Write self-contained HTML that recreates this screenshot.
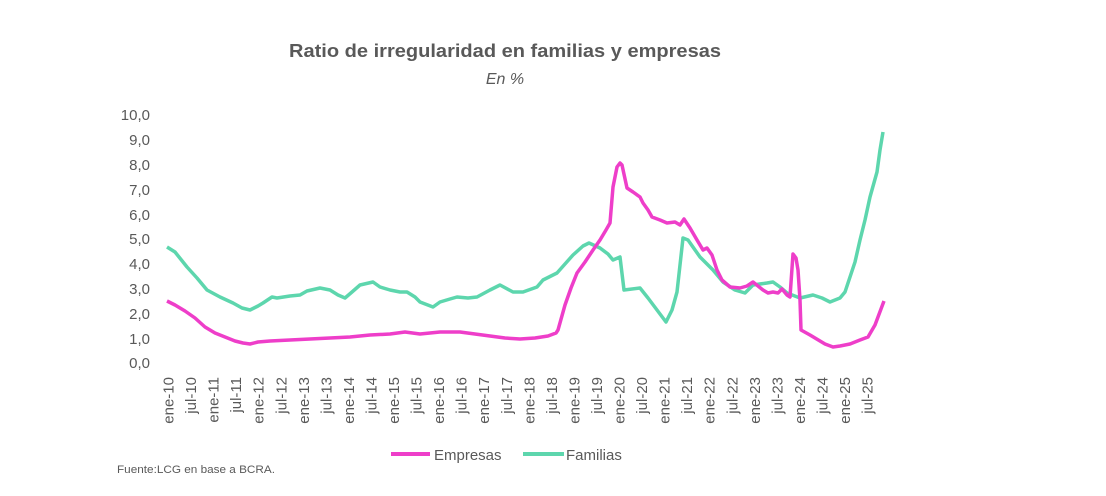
<!DOCTYPE html>
<html><head><meta charset="utf-8"><style>
html,body{margin:0;padding:0;background:#fff;}
svg{display:block;font-family:"Liberation Sans",sans-serif;}
</style></head><body>
<svg width="1106" height="496" viewBox="0 0 1106 496" xmlns="http://www.w3.org/2000/svg">
<rect width="1106" height="496" fill="#fff"/>
<text x="505" y="57" text-anchor="middle" font-size="18" font-weight="bold" fill="#595959" textLength="432" lengthAdjust="spacingAndGlyphs">Ratio de irregularidad en familias y empresas</text>
<text x="505" y="84" text-anchor="middle" font-size="16" font-style="italic" fill="#595959">En %</text>
<g font-size="15" fill="#595959" text-anchor="end">
<text x="150" y="120">10,0</text><text x="150" y="145">9,0</text><text x="150" y="170">8,0</text>
<text x="150" y="195">7,0</text><text x="150" y="220">6,0</text><text x="150" y="244">5,0</text>
<text x="150" y="269">4,0</text><text x="150" y="294">3,0</text><text x="150" y="319">2,0</text>
<text x="150" y="344">1,0</text><text x="150" y="368">0,0</text>
</g>
<g font-size="15" fill="#595959" text-anchor="end">
<text transform="translate(173.5,377) rotate(-90)">ene-10</text>
<text transform="translate(196.1,377) rotate(-90)">jul-10</text>
<text transform="translate(218.6,377) rotate(-90)">ene-11</text>
<text transform="translate(241.2,377) rotate(-90)">jul-11</text>
<text transform="translate(263.7,377) rotate(-90)">ene-12</text>
<text transform="translate(286.3,377) rotate(-90)">jul-12</text>
<text transform="translate(308.8,377) rotate(-90)">ene-13</text>
<text transform="translate(331.4,377) rotate(-90)">jul-13</text>
<text transform="translate(353.9,377) rotate(-90)">ene-14</text>
<text transform="translate(376.5,377) rotate(-90)">jul-14</text>
<text transform="translate(399.0,377) rotate(-90)">ene-15</text>
<text transform="translate(421.6,377) rotate(-90)">jul-15</text>
<text transform="translate(444.1,377) rotate(-90)">ene-16</text>
<text transform="translate(466.7,377) rotate(-90)">jul-16</text>
<text transform="translate(489.2,377) rotate(-90)">ene-17</text>
<text transform="translate(511.8,377) rotate(-90)">jul-17</text>
<text transform="translate(534.3,377) rotate(-90)">ene-18</text>
<text transform="translate(556.9,377) rotate(-90)">jul-18</text>
<text transform="translate(579.4,377) rotate(-90)">ene-19</text>
<text transform="translate(602.0,377) rotate(-90)">jul-19</text>
<text transform="translate(624.5,377) rotate(-90)">ene-20</text>
<text transform="translate(647.1,377) rotate(-90)">jul-20</text>
<text transform="translate(669.6,377) rotate(-90)">ene-21</text>
<text transform="translate(692.2,377) rotate(-90)">jul-21</text>
<text transform="translate(714.7,377) rotate(-90)">ene-22</text>
<text transform="translate(737.3,377) rotate(-90)">jul-22</text>
<text transform="translate(759.8,377) rotate(-90)">ene-23</text>
<text transform="translate(782.4,377) rotate(-90)">jul-23</text>
<text transform="translate(804.9,377) rotate(-90)">ene-24</text>
<text transform="translate(827.5,377) rotate(-90)">jul-24</text>
<text transform="translate(850.0,377) rotate(-90)">ene-25</text>
<text transform="translate(872.6,377) rotate(-90)">jul-25</text>
</g>
<polyline fill="none" stroke="#5dd6ad" stroke-width="3.5" stroke-linejoin="round" points="167,247 175,252 187,267 197,278 207,290 220,297 233,303 242,308 250,310 258,306 263,303 272,297 277,298 290,296 300,295 307,291 320,288 330,290 338,295 345,298 352,292 360,285 373,282 380,287 390,290 400,292 407,292 415,297 420,302 433,307 440,302 450,299 457,297 468,298 477,297 490,290 500,285 513,292 523,292 537,287 543,280 557,273 573,255 583,246 589,243 600,248 608,254 613,260 620,257 624,290 640,288 648,298 657,310 666,322 672,310 677,292 683,238 688,240 700,257 713,270 723,282 735,290 745,293 753,285 767,283 773,282 780,287 787,293 800,298 813,295 822,298 830,302 840,298 845,292 850,277 855,262 860,240 865,220 870,197 877,172 880,150 883,132"/>
<polyline fill="none" stroke="#ee3ec9" stroke-width="3.5" stroke-linejoin="round" points="167,301 175,305 185,311 195,318 205,327 215,333 225,337 235,341 243,343 250,344 258,342 270,341 290,340 310,339 330,338 350,337 370,335 390,334 405,332 420,334 430,333 440,332 460,332 475,334 490,336 505,338 520,339 535,338 548,336 556,333 558,330 565,305 571,288 577,273 585,262 593,250 600,240 606,230 610,223 613,187 617,167 620,163 622,165 627,188 633,192 640,197 643,203 648,210 652,217 660,220 667,223 675,222 680,225 684,219 690,228 697,240 703,250 707,248 712,255 717,270 722,280 730,287 740,288 747,286 753,282 758,286 763,290 768,293 773,292 778,293 782,289 787,295 790,297 793,254 796,258 798,270 800,300 801,330 810,335 820,341 825,344 833,347 840,346 850,344 860,340 868,337 875,325 884,301"/>
<line x1="391" y1="454" x2="430" y2="454" stroke="#ee3ec9" stroke-width="4"/>
<text x="434" y="460" font-size="15" fill="#595959">Empresas</text>
<line x1="523" y1="454" x2="564" y2="454" stroke="#5dd6ad" stroke-width="4"/>
<text x="566" y="460" font-size="15" fill="#595959">Familias</text>
<text x="117" y="473" font-size="11" fill="#595959" textLength="158" lengthAdjust="spacingAndGlyphs">Fuente:LCG en base a BCRA.</text>
</svg>
</body></html>
